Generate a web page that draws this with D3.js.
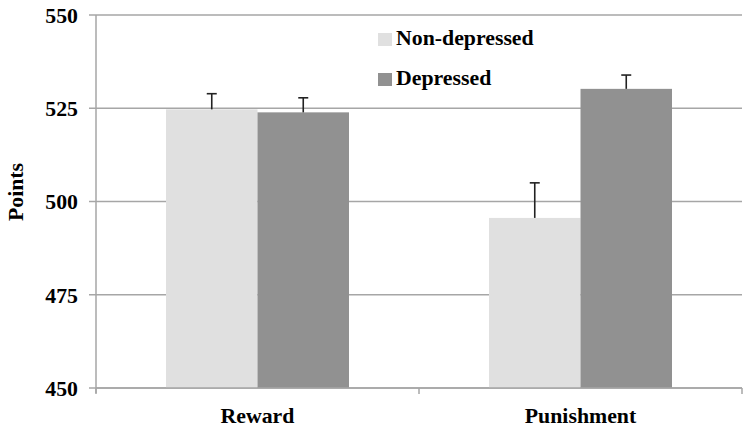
<!DOCTYPE html>
<html><head><meta charset="utf-8">
<script src="https://cdn.jsdelivr.net/npm/d3@7"></script>
<style>body{margin:0;background:#fff}svg{display:block}</style>
</head><body><svg id="c" width="751" height="431"></svg>
<script>
const categories = ["Reward", "Punishment"];
const seriesNames = ["Non-depressed", "Depressed"];
const nonDepressed = [524.7, 495.6];
const depressed = [523.9, 530.2];
const nonDepressedErr = [4.2, 9.4];
const depressedErr = [3.9, 3.7];
const yTicks = [450, 475, 500, 525, 550];
const colors = ["#e0e0e0", "#919191"];
const FONT = "'Liberation Serif', 'Times New Roman', Times, 'DejaVu Serif', serif";

const svg = d3.select("#c");
const m = {l: 96, r: 742, t: 15, b: 388};
const x = d3.scaleBand().domain(categories).range([m.l, m.r]).paddingInner(0).paddingOuter(0);
const y = d3.scaleLinear().domain([450, 550]).range([m.b, m.t]);
const inner = d3.scaleBand().domain(seriesNames).range([0, x.bandwidth()]).paddingOuter(0.765).paddingInner(0);

function styleText(sel) {
  sel.style("font-family", FONT).style("font-weight", "bold").style("font-size", "21.8px").style("fill", "#000");
}

svg.append("g").selectAll("line").data(yTicks).join("line")
  .attr("x1", m.l - 7).attr("x2", m.r)
  .attr("y1", d => y(d)).attr("y2", d => y(d))
  .attr("stroke", "#a6a6a6").attr("stroke-width", 1.5);

const data = categories.map((c, i) => ({c, vals: [
  {s: seriesNames[0], v: nonDepressed[i], e: nonDepressedErr[i]},
  {s: seriesNames[1], v: depressed[i], e: depressedErr[i]}]}));

const g = svg.append("g").selectAll("g").data(data).join("g")
  .attr("transform", d => `translate(${x(d.c)},0)`);
g.selectAll("rect").data(d => d.vals).join("rect")
  .attr("x", d => inner(d.s)).attr("width", inner.bandwidth())
  .attr("y", d => y(d.v)).attr("height", d => y(450) - y(d.v))
  .attr("fill", (d, i) => colors[i]);
const eb = g.selectAll("g.eb").data(d => d.vals).join("g").attr("class", "eb");
eb.append("line")
  .attr("x1", d => inner(d.s) + inner.bandwidth() / 2).attr("x2", d => inner(d.s) + inner.bandwidth() / 2)
  .attr("y1", d => y(d.v)).attr("y2", d => y(d.v + d.e))
  .attr("stroke", "#222").attr("stroke-width", 1.6);
eb.append("line")
  .attr("x1", d => inner(d.s) + inner.bandwidth() / 2 - 5).attr("x2", d => inner(d.s) + inner.bandwidth() / 2 + 5)
  .attr("y1", d => y(d.v + d.e)).attr("y2", d => y(d.v + d.e))
  .attr("stroke", "#222").attr("stroke-width", 1.6);

const ya = svg.append("g").attr("transform", `translate(${m.l},0)`)
  .call(d3.axisLeft(y).tickValues(yTicks).tickSize(7).tickPadding(11));
ya.attr("font-family", null).attr("font-size", null);
ya.select(".domain").attr("stroke", "#a6a6a6").attr("stroke-width", 1.5).attr("d", `M0,${m.t}V${m.b + 5}`);
ya.selectAll(".tick line").remove();
ya.selectAll("text").call(styleText).attr("dy", "0.34em");

const xa = svg.append("g").attr("transform", `translate(0,${m.b})`);
xa.append("line").attr("x1", m.l).attr("x2", m.r).attr("stroke", "#a6a6a6").attr("stroke-width", 1.5);
xa.selectAll("line.t").data([...categories.map(c => x(c)), m.r]).join("line").attr("class", "t")
  .attr("x1", d => d).attr("x2", d => d).attr("y1", 0).attr("y2", 6)
  .attr("stroke", "#a6a6a6").attr("stroke-width", 1.5);
xa.selectAll("text").data(categories).join("text")
  .attr("x", d => x(d) + x.bandwidth() / 2).attr("y", 34.5)
  .attr("text-anchor", "middle").call(styleText).text(d => d);

svg.append("text").attr("transform", "translate(23,192) rotate(-90)")
  .attr("text-anchor", "middle").call(styleText).text("Points");

const leg = svg.append("g").selectAll("g").data(seriesNames).join("g")
  .attr("transform", (d, i) => `translate(378,${33 + i * 40})`);
leg.append("rect").attr("width", 14).attr("height", 13).attr("fill", (d, i) => colors[i]);
leg.append("text").attr("x", 18).attr("y", 11.5).call(styleText).text(d => d);
</script></body></html>
